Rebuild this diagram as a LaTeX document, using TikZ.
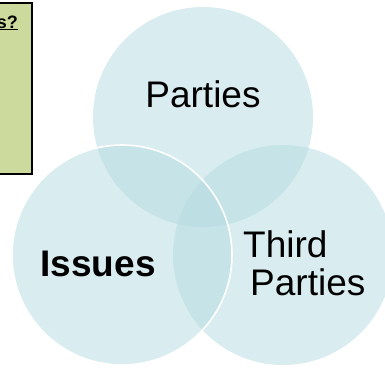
\documentclass[tikz,border=0pt]{standalone}
\usepackage{fontspec}
\setmainfont{Liberation Sans}
\definecolor{venn}{RGB}{181,219,225}
\definecolor{boxgreen}{RGB}{205,218,158}
\tikzset{
  vennfill/.style={fill=venn, fill opacity=0.5, draw=none},
  vennedge/.style={draw=white, line width=1.6pt},
  lbl/.style={font=\fontsize{37}{38}\selectfont, inner sep=0pt, text=black},
}
\begin{document}
\begin{tikzpicture}[x=1pt,y=-1pt]
\useasboundingbox (0,0) rectangle (385,367);
\fill[white] (0,0) rectangle (385,367);
% circles
\coordinate (ct) at (203,117);
\coordinate (cr) at (283,255);
\coordinate (cl) at (122,255);
\fill[vennfill] (ct) circle[radius=110];
\fill[vennfill] (cr) circle[radius=110];
\draw[vennedge] (cr) ++(137:-110) arc[start angle=-137, end angle=137, radius=110];
\fill[vennfill] (cl) circle[radius=110];
\draw[vennedge] (cl) circle[radius=110];
% question box
\draw[fill=boxgreen, draw=black, line width=2pt] (-10,3) rectangle (32,174);
\node[anchor=base east, inner sep=0pt, font=\bfseries\fontsize{18}{20}\selectfont] (q) at (18,28) {\underline{s?}};
% labels
\node[lbl, anchor=base] (parties) at (203,107) {Parties};
\node[lbl, anchor=base, font=\bfseries\fontsize{37}{38}\selectfont] (issues) at (98,276) {Issues};
\node[lbl, anchor=base west] (third) at (243,257) {Third};
\node[lbl, anchor=base west] (third2) at (250,295) {Parties};
\end{tikzpicture}
\end{document}
